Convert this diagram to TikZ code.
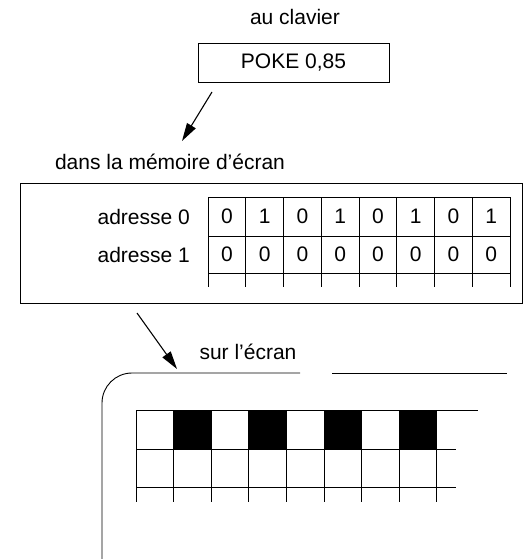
\documentclass[tikz,border=0pt]{standalone}
\usepackage{fontspec}
\setmainfont{Liberation Sans}
\usetikzlibrary{arrows.meta}
\begin{document}
\begin{tikzpicture}[x=1pt,y=-1pt,
  lbl/.style={inner sep=0pt, font=\fontsize{21}{25}\selectfont},
  boxed/.style={draw, line width=0.9pt, inner sep=0pt},
  ln/.style={line width=0.9pt},
  arr/.style={line width=1.1pt, -{Triangle[length=18pt,width=10pt]}},
  digit/.style={inner sep=0pt, font=\fontsize{21}{25}\selectfont}]
\useasboundingbox (0,0) rectangle (526,559);
% top
\node[lbl] (clav) at (295,17) {au clavier};
\node[boxed, minimum width=191pt, minimum height=39pt, font=\fontsize{21}{25}\selectfont] (poke) at (293.5,62.5) {POKE 0,85};
\coordinate (a1s) at (212,92);
\coordinate (a1e) at (182,141);
\draw[arr] (a1s) -- (a1e);
% memory
\node[lbl] (memlbl) at (170,162) {dans la m\'emoire d'\'ecran};
\node[boxed, minimum width=502pt, minimum height=120pt] (mem) at (271,243.5) {};
\node[lbl, anchor=east] (ad0) at (190,216.5) {adresse 0};
\node[lbl, anchor=east] (ad1) at (190,254.5) {adresse 1};
\draw[ln] (208,197) -- (510,197);
\draw[ln] (208,236) -- (510,236);
\draw[ln] (208,273) -- (510,273);
\foreach \k in {0,...,8} {
  \draw[ln] ({208+37.75*\k},197) -- ({208+37.75*\k},287);
}
\foreach \b [count=\i from 0] in {0,1,0,1,0,1,0,1} {
  \node[digit] (r0c\i) at ({208+37.75*\i+18.9},216.5) {\b};
}
\foreach \b [count=\i from 0] in {0,0,0,0,0,0,0,0} {
  \node[digit] (r1c\i) at ({208+37.75*\i+18.9},254.5) {\b};
}
% arrow to screen
\coordinate (a2s) at (137,313);
\coordinate (a2e) at (177,369);
\draw[arr] (a2s) -- (a2e);
\node[lbl] (scrlbl) at (248,352) {sur l'\'ecran};
% screen frame
\draw[ln, rounded corners=30pt] (300,373) -- (102,373) -- (102,559);
\draw[ln] (332,373) -- (507,373);
% pixel grid
\foreach \k in {1,3,5,7} {
  \fill ({136+37.6*\k},410) rectangle ({136+37.6*(\k+1)},449);
}
\draw[ln] (136,410) -- (478,410);
\draw[ln] (136,449) -- (456,449);
\draw[ln] (136,487) -- (456,487);
\foreach \k in {0,...,8} {
  \draw[ln] ({136+37.6*\k},410) -- ({136+37.6*\k},502);
}
\end{tikzpicture}
\end{document}
